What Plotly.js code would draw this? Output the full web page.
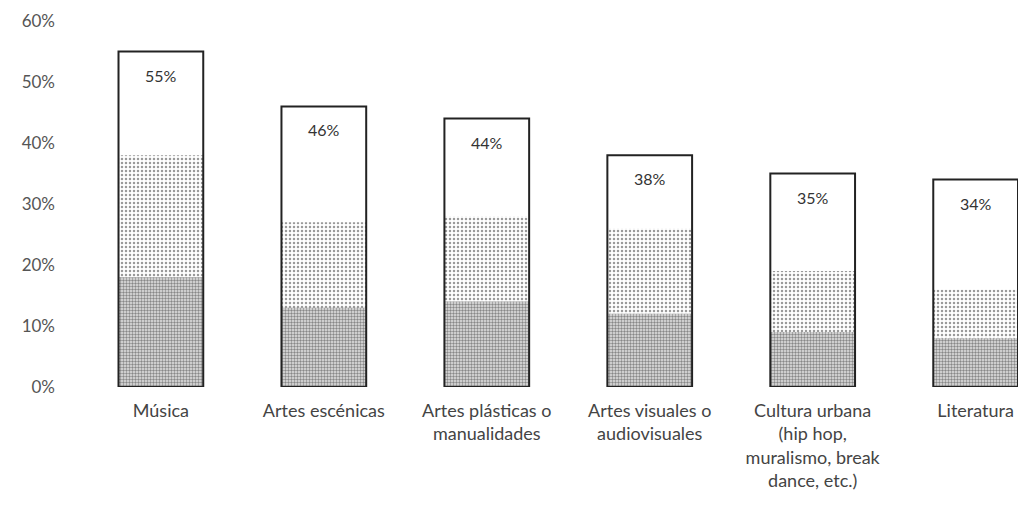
<!DOCTYPE html>
<html>
<head>
<meta charset="utf-8">
<script src="https://cdn.plot.ly/plotly-3.0.1.min.js"></script>
<style>
  body { margin: 0; background: #fff; }
  #chart { width: 1018px; height: 526px; }
</style>
</head>
<body>
<div id="chart"></div>
<script>
// categories and values
var categorias = [
    "Música",
    "Artes escénicas",
    "Artes plásticas o<br>manualidades",
    "Artes visuales o<br>audiovisuales",
    "Cultura urbana<br>(hip hop,<br>muralismo, break<br>dance, etc.)",
    "Literatura"
];
var porcentajes = [0.55, 0.46, 0.44, 0.38, 0.35, 0.34];
var etiquetas = ["55%", "46%", "44%", "38%", "35%", "34%"];

// how far up the grey shading of each bar reaches
var sombraClara = [0.38, 0.27, 0.28, 0.26, 0.19, 0.16];
var sombraOscura = [0.18, 0.13, 0.14, 0.12, 0.09, 0.08];

var font = "Lato, 'Open Sans', sans-serif";
var ancho = 0.52;

var fondo = {
    x: categorias, y: porcentajes, type: "bar", width: ancho,
    marker: {color: "#ffffff", line: {width: 0}},
    hoverinfo: "skip"
};
var clara = {
    x: categorias, y: sombraClara, type: "bar", width: ancho,
    marker: {color: "#ffffff", line: {width: 0},
        pattern: {shape: ".", fgcolor: "#9a9a9a", bgcolor: "#ffffff", size: 4, solidity: 0.3}},
    hoverinfo: "skip"
};
var oscura = {
    x: categorias, y: sombraOscura, type: "bar", width: ancho,
    marker: {color: "#ffffff", line: {width: 0},
        pattern: {shape: ".", fgcolor: "#888888", bgcolor: "#e6e6e6", size: 3, solidity: 0.5}},
    hoverinfo: "skip"
};
var borde = {
    x: categorias, y: porcentajes, type: "bar", width: ancho,
    marker: {color: "rgba(0,0,0,0)", line: {width: 2, color: "#222222"}},
    hoverinfo: "skip"
};

var data = [fondo, clara, oscura, borde];

var anotaciones = categorias.map(function (c, i) {
    return {
        x: c, y: porcentajes[i], text: etiquetas[i],
        showarrow: false, yanchor: "top", yshift: -12,
        font: {family: font, size: 16, color: "#333333"}
    };
});

var layout = {
    width: 1018, height: 526,
    margin: {l: 68, r: 0, t: 21, b: 139},
    paper_bgcolor: "#ffffff", plot_bgcolor: "#ffffff",
    barmode: "overlay",
    showlegend: false,
    xaxis: {
        range: [-0.57, 5.26],
        showgrid: false, zeroline: false, showline: false, ticks: "",
        ticklabelstandoff: 11,
        tickfont: {family: font, size: 18, color: "#444444"}
    },
    yaxis: {
        range: [0, 0.6], dtick: 0.1, tickformat: ".0%",
        showgrid: false, zeroline: false, showline: false, ticks: "",
        ticklabelstandoff: 12,
        tickfont: {family: font, size: 17, color: "#555555"}
    },
    annotations: anotaciones
};

Plotly.newPlot("chart", data, layout, {displayModeBar: false});
</script>
</body>
</html>
